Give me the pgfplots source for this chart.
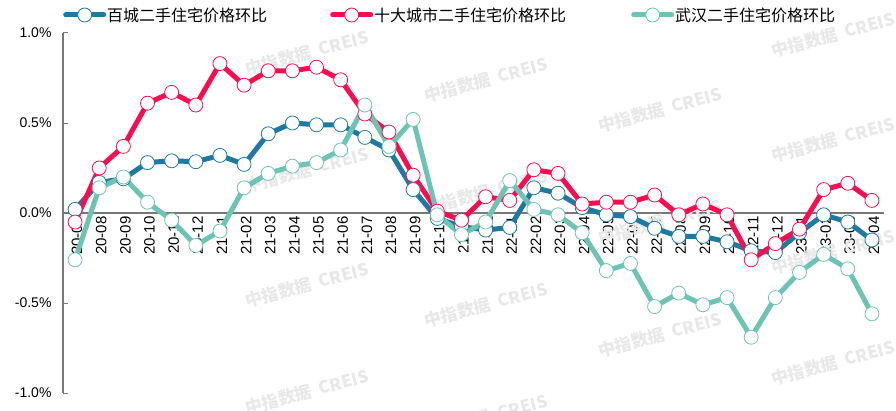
\documentclass[border=0pt]{standalone}
\usepackage{fontspec}
\setmainfont{Liberation Sans}
\newfontfamily\cjk{Noto Sans CJK SC}
\usepackage{pgfplots}
\pgfplotsset{compat=1.18}
\usepackage{pgfplotstable}
\definecolor{cblue}{RGB}{31,122,163}
\definecolor{cred}{RGB}{255,12,80}
\definecolor{cteal}{RGB}{110,196,180}
\definecolor{wm}{RGB}{232,232,232}
\definecolor{axgray}{RGB}{120,120,120}

\pgfplotstableread{
x blue red teal
0 0.02 -0.05 -0.26
1 0.17 0.25 0.14
2 0.19 0.37 0.20
3 0.28 0.61 0.06
4 0.29 0.67 -0.04
5 0.285 0.60 -0.18
6 0.32 0.83 -0.10
7 0.27 0.71 0.14
8 0.44 0.79 0.22
9 0.50 0.79 0.26
10 0.49 0.81 0.28
11 0.49 0.74 0.35
12 0.42 0.55 0.60
13 0.35 0.45 0.37
14 0.13 0.21 0.52
15 -0.03 0.01 -0.01
16 -0.075 -0.04 -0.12
17 -0.095 0.09 -0.05
18 -0.08 0.07 0.18
19 0.14 0.24 0.02
20 0.11 0.22 -0.01
21 0.03 0.05 -0.11
22 -0.01 0.06 -0.32
23 -0.02 0.06 -0.28
24 -0.085 0.10 -0.52
25 -0.13 -0.01 -0.445
26 -0.13 0.05 -0.51
27 -0.16 -0.01 -0.47
28 -0.21 -0.26 -0.69
29 -0.22 -0.17 -0.47
30 -0.11 -0.09 -0.33
31 -0.01 0.13 -0.23
32 -0.05 0.165 -0.31
33 -0.15 0.07 -0.56
}\datatable

\begin{document}
\begin{tikzpicture}
\path (0,0) rectangle (896pt,410pt);
\begin{scope}
\clip (0,0) rectangle (896pt,410pt);
\foreach \x/\y in {307/357,307/240,307/125,307/18,486/330,486/218,486/105,486/-7,660/300,660/188,660/75,833/375,833/270,833/158,833/47}{
  \node[rotate=15, text=wm, font=\cjk\bfseries\fontsize{17}{17}\selectfont] at (\x pt,\y pt) {中指数据\ \ CREIS};
}
\end{scope}
\begin{axis}[
  set layers,
  at={(63pt,17pt)}, anchor=south west,
  scale only axis, width=821pt, height=360pt,
  xmin=-0.5, xmax=33.5, ymin=-1, ymax=1,
  axis x line*=middle, axis y line*=left,
  tick align=inside,
  hide obscured x ticks=false, hide obscured y ticks=false,
  x axis line style={axgray, line width=2pt},
  y axis line style={axgray, line width=1.2pt},
  xtick={0,...,33},
  xticklabels={20-07,20-08,20-09,20-10,20-11,20-12,21-01,21-02,21-03,21-04,21-05,21-06,21-07,21-08,21-09,21-10,21-11,21-12,22-01,22-02,22-03,22-04,22-05,22-06,22-07,22-08,22-09,22-10,22-11,22-12,23-01,23-02,23-03,23-04},
  xtick style={draw=none},
  minor xtick={-0.5,0.5,...,33.5},
  minor tick length=5pt,
  major tick length=5pt,
  minor x tick style={axgray, line width=1pt},
  ytick={-1,-0.5,0,0.5,1},
  yticklabels={-1.0\%,-0.5\%,0.0\%,0.5\%,1.0\%},
  ytick style={axgray, line width=1pt},
  yticklabel style={font=\fontsize{14}{14}\selectfont, xshift=-8pt},
  xticklabel style={rotate=90, anchor=east, font=\fontsize{15}{15}\selectfont, yshift=-2pt},
  legend columns=3,
  legend style={at={(0,1)}, anchor=west, yshift=18pt, draw=none, fill=none, inner sep=0pt,
     font=\cjk\fontsize{16}{16}\selectfont, nodes={inner sep=1pt}},
  legend cell align=left,
  legend image code/.code={\draw[mark repeat=2,mark phase=2,#1] plot coordinates {(0pt,0pt) (19pt,0pt) (38pt,0pt)};},
  every axis plot/.append style={line join=round, line cap=round},
]
\addplot[cblue, line width=5pt, mark=*, mark size=7pt, mark options={fill=white, draw=cblue, line width=0.8pt}] table[x=x,y=blue] {\datatable};
\addlegendentry{\makebox[222pt][l]{百城二手住宅价格环比}}
\addplot[cred, line width=5pt, mark=*, mark size=7pt, mark options={fill=white, draw=cred, line width=0.8pt}] table[x=x,y=red] {\datatable};
\addlegendentry{\makebox[256pt][l]{十大城市二手住宅价格环比}}
\addplot[cteal, line width=5pt, mark=*, mark size=7pt, mark options={fill=white, draw=cteal, line width=0.8pt}] table[x=x,y=teal] {\datatable};
\addlegendentry{武汉二手住宅价格环比}
\end{axis}
\end{tikzpicture}
\end{document}
